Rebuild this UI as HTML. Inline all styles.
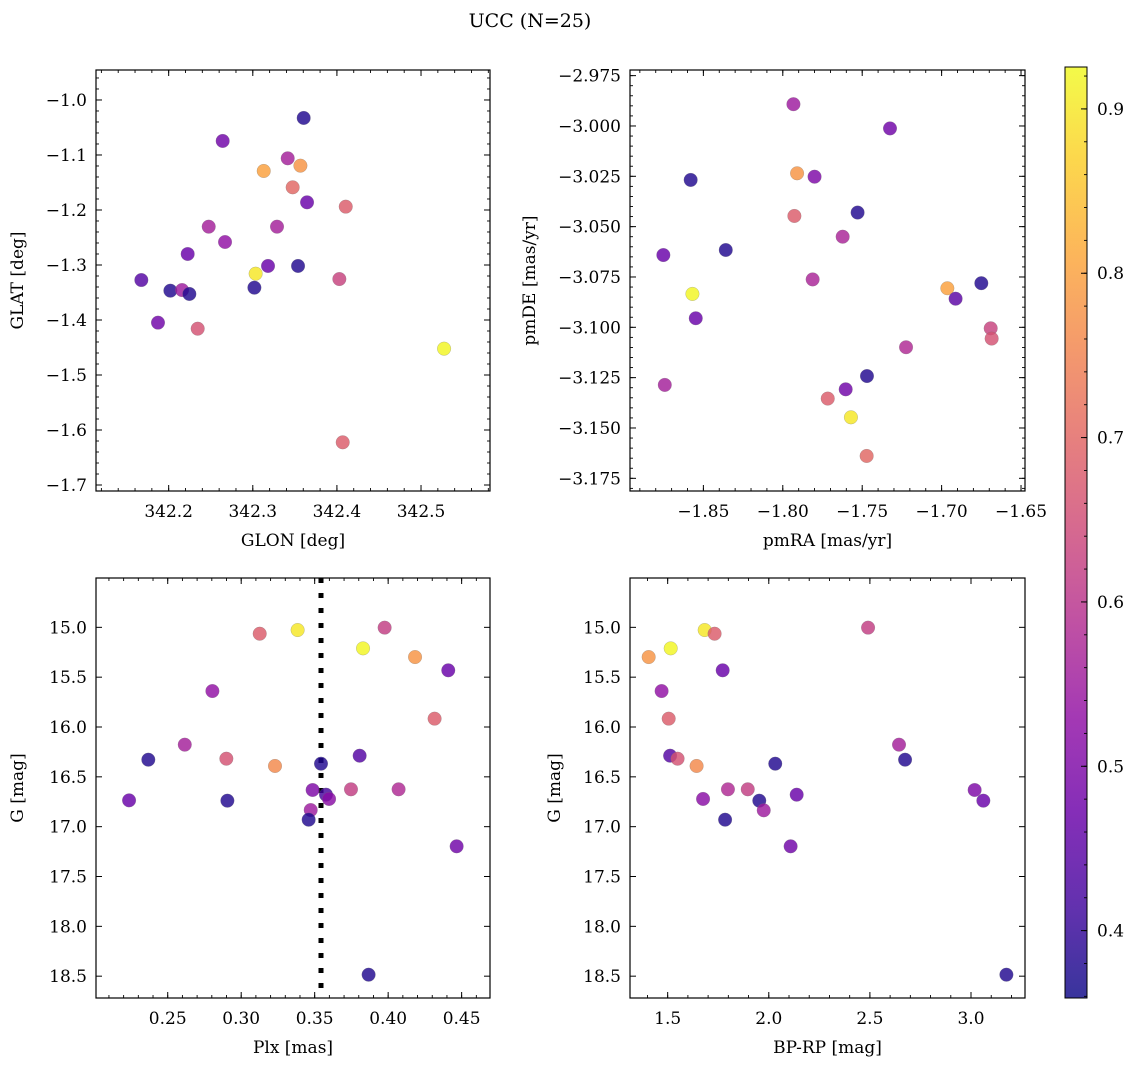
<!DOCTYPE html>
<html><head><meta charset="utf-8"><style>
html,body{margin:0;padding:0;background:#fff;}
svg{display:block;font-family:"DejaVu Serif","Liberation Serif",serif;}
</style></head><body>
<svg id="fig" width="1136" height="1067" viewBox="0 0 1136 1067" xmlns="http://www.w3.org/2000/svg">
<text x="530" y="27" font-size="19" text-anchor="middle">UCC (N=25)</text>
</svg>
<script>
// Panel 1: GLON vs GLAT
const glon = [342.3605,342.2642,342.3415,342.3566,342.3130,342.3474,342.3645,342.4105,342.2476,342.3288,342.2670,342.2226,342.3181,342.3538,342.3034,342.1675,342.4029,342.2020,342.2159,342.2246,342.3019,342.1873,342.2345,342.5274,342.4069];
const glat = [-1.0327,-1.0745,-1.1061,-1.1194,-1.1291,-1.1588,-1.1861,-1.1939,-1.2303,-1.2303,-1.2582,-1.2800,-1.3018,-1.3018,-1.3158,-1.3273,-1.3255,-1.3467,-1.3455,-1.3527,-1.3412,-1.4048,-1.4158,-1.4521,-1.6224];
const c1 = [0.38,0.48,0.56,0.78,0.80,0.70,0.47,0.68,0.56,0.56,0.53,0.47,0.47,0.38,0.90,0.44,0.63,0.38,0.55,0.38,0.38,0.48,0.66,0.92,0.68];
// Panel 2: pmRA vs pmDE
const pmra = [-1.7933,-1.7325,-1.858,-1.791,-1.780,-1.7927,-1.7529,-1.7623,-1.8752,-1.8359,-1.7812,-1.8569,-1.8548,-1.6964,-1.6912,-1.675,-1.6691,-1.6685,-1.7224,-1.8743,-1.7470,-1.7604,-1.7717,-1.7571,-1.7472];
const pmde = [-2.9892,-3.0012,-3.0268,-3.0235,-3.0252,-3.0447,-3.0430,-3.0550,-3.0641,-3.0616,-3.0762,-3.0834,-3.0955,-3.0806,-3.0858,-3.0781,-3.1005,-3.1056,-3.1099,-3.1286,-3.1242,-3.1308,-3.1354,-3.1447,-3.1639];
const c2 = [0.55,0.48,0.38,0.78,0.50,0.68,0.38,0.57,0.47,0.38,0.57,0.92,0.47,0.80,0.45,0.38,0.63,0.66,0.58,0.56,0.38,0.48,0.68,0.90,0.70];
// Panel 3: Plx vs G
const plx = [0.3126,0.3384,0.3976,0.3829,0.4183,0.4409,0.2804,0.4316,0.2616,0.2368,0.2899,0.3230,0.3543,0.3806,0.3486,0.3577,0.3598,0.3747,0.4071,0.2237,0.2906,0.3473,0.3459,0.4466,0.3867];
const gA = [15.064,15.027,15.003,15.211,15.298,15.431,15.639,15.916,16.177,16.328,16.318,16.391,16.368,16.288,16.632,16.679,16.722,16.625,16.625,16.736,16.739,16.833,16.930,17.197,18.485];
const c3 = [0.68,0.90,0.62,0.92,0.78,0.47,0.53,0.68,0.56,0.38,0.66,0.76,0.38,0.44,0.50,0.42,0.52,0.62,0.58,0.47,0.38,0.55,0.38,0.48,0.38];
const plxLine = [0.3543];
// Panel 4: BP-RP vs G
const bprp = [1.406,1.515,1.683,1.732,2.491,1.772,1.470,1.505,1.512,1.549,1.643,2.032,2.644,2.674,1.675,1.798,1.896,1.953,1.975,2.138,1.784,2.108,3.018,3.061,3.175];
const gB = [15.298,15.211,15.027,15.064,15.003,15.431,15.639,15.916,16.288,16.318,16.391,16.368,16.177,16.328,16.722,16.625,16.625,16.739,16.836,16.679,16.930,17.197,16.632,16.739,18.485];
const c4 = [0.78,0.92,0.90,0.68,0.62,0.47,0.53,0.68,0.44,0.66,0.76,0.38,0.56,0.38,0.52,0.58,0.62,0.38,0.55,0.47,0.38,0.48,0.50,0.47,0.38];
// Tick labels
const ticks1x = [342.2,342.3,342.4,342.5], ticks1y = [-1.0,-1.1,-1.2,-1.3,-1.4,-1.5,-1.6,-1.7];
const ticks2x = [-1.85,-1.80,-1.75,-1.70,-1.65], ticks2y = [-2.975,-3.000,-3.025,-3.050,-3.075,-3.100,-3.125,-3.150,-3.175];
const ticks3x = [0.25,0.30,0.35,0.40,0.45], ticksGy = [15.0,15.5,16.0,16.5,17.0,17.5,18.0,18.5];
const ticks4x = [1.5,2.0,2.5,3.0];
const cbTicks = [0.4,0.5,0.6,0.7,0.8,0.9];
const cbMin = 0.359, cbMax = 0.9255;

const NS = "http://www.w3.org/2000/svg";
const svg = document.getElementById('fig');
function mk(tag, attrs, parent){const e=document.createElementNS(NS,tag);for(const k in attrs)e.setAttribute(k,attrs[k]);(parent||svg).appendChild(e);return e;}
const stops=[[13,8,135],[65,4,157],[106,0,168],[143,13,164],[177,42,144],[204,71,120],[225,100,98],[242,132,75],[252,166,54],[252,206,37],[240,249,33]];
function plasma(t){t=Math.max(0,Math.min(1,t));const f=t*10,i=Math.min(9,Math.floor(f)),r=f-i;const a=stops[i],b=stops[i+1];return 'rgb('+a.map((v,k)=>Math.round(v+(b[k]-v)*r)).join(',')+')';}
function cmap(v){return plasma((v-cbMin)/(cbMax-cbMin));}
function fmt(v,d){return (v<0?'−':'')+Math.abs(v).toFixed(d);}

function panel(o){
  const g=mk('g',{});
  
  
  const sx=v=>o.x0+(v-o.xmin)/(o.xmax-o.xmin)*(o.x1-o.x0);
  const sy=v=>o.y0+(o.ymax-v)/(o.ymax-o.ymin)*(o.y1-o.y0);
  if(o.vline){for(const v of o.vline){const l=mk('line',{x1:sx(v),x2:sx(v),y1:o.y0,y2:o.y1,stroke:'#000','stroke-width':5,'stroke-dasharray':'5 10'},g);
    
    }}
  for(let i=0;i<o.xs.length;i++){
    const c=mk('circle',{cx:sx(o.xs[i]),cy:sy(o.ys[i]),r:6.8,fill:cmap(o.cs[i]),'fill-opacity':0.82,stroke:'#777','stroke-width':0.4,'stroke-opacity':0.6},g);
    
    
  }
  const fr=mk('rect',{x:o.x0,y:o.y0,width:o.x1-o.x0,height:o.y1-o.y0,fill:'none',stroke:'#000','stroke-width':1.2},g);
  
  
  const xm=o.xminor, ym=o.yminor;
  for(let v=Math.ceil(o.xmin/xm)*xm; v<=o.xmax; v+=xm){const x=sx(v);
    mk('line',{x1:x,x2:x,y1:o.y1,y2:o.y1-3,stroke:'#000','stroke-width':0.9},g);
    mk('line',{x1:x,x2:x,y1:o.y0,y2:o.y0+3,stroke:'#000','stroke-width':0.9},g);}
  for(let v=Math.ceil(o.ymin/ym)*ym; v<=o.ymax; v+=ym){const y=sy(v);
    mk('line',{x1:o.x0,x2:o.x0+3,y1:y,y2:y,stroke:'#000','stroke-width':0.9},g);
    mk('line',{x1:o.x1,x2:o.x1-3,y1:y,y2:y,stroke:'#000','stroke-width':0.9},g);}
  for(const v of o.xt){const x=sx(v);
    mk('line',{x1:x,x2:x,y1:o.y1,y2:o.y1-6,stroke:'#000','stroke-width':1},g);
    mk('line',{x1:x,x2:x,y1:o.y0,y2:o.y0+6,stroke:'#000','stroke-width':1},g);
    const t=mk('text',{x:x,y:o.y1+26,'font-size':17,'text-anchor':'middle'},g);t.textContent=fmt(v,o.xd);
    
    }
  for(const v of o.yt){const y=sy(v);
    mk('line',{x1:o.x0,x2:o.x0+6,y1:y,y2:y,stroke:'#000','stroke-width':1},g);
    mk('line',{x1:o.x1,x2:o.x1-6,y1:y,y2:y,stroke:'#000','stroke-width':1},g);
    const t=mk('text',{x:o.x0-9,y:y+6,'font-size':17,'text-anchor':'end'},g);t.textContent=fmt(v,o.yd);
    
    }
  const xl=mk('text',{x:(o.x0+o.x1)/2,y:o.y1+55,'font-size':17,'text-anchor':'middle'},g);xl.textContent=o.xlab;
  
  
  const yl=mk('text',{x:0,y:0,'font-size':17,'text-anchor':'middle',transform:'translate('+(o.ylx)+','+((o.y0+o.y1)/2)+') rotate(-90)'},g);yl.textContent=o.ylab;
  
  
}
panel({name:'glon-glat-panel',x0:96,x1:490,y0:70,y1:491,xmin:342.1136,xmax:342.582,ymin:-1.7109,ymax:-0.9455,xs:glon,ys:glat,cs:c1,xt:ticks1x,yt:ticks1y,xd:1,yd:1,xminor:0.02,yminor:0.02,xlab:'GLON [deg]',ylab:'GLAT [deg]',ylx:23});
panel({name:'pm-panel',x0:630,x1:1025,y0:70,y1:491,xmin:-1.8962,xmax:-1.6475,ymin:-3.1813,ymax:-2.9722,xs:pmra,ys:pmde,cs:c2,xt:ticks2x,yt:ticks2y,xd:2,yd:3,xminor:0.01,yminor:0.005,xlab:'pmRA [mas/yr]',ylab:'pmDE [mas/yr]',ylx:535});
panel({name:'plx-g-panel',x0:96,x1:490,y0:578,y1:998,xmin:0.2012,xmax:0.4693,ymin:18.719,ymax:14.505,xs:plx,ys:gA,cs:c3,xt:ticks3x,yt:ticksGy,xd:2,yd:1,xminor:0.01,yminor:0.1,xlab:'Plx [mas]',ylab:'G [mag]',ylx:23,vline:plxLine});
panel({name:'cmd-panel',x0:630,x1:1025,y0:578,y1:998,xmin:1.3137,xmax:3.267,ymin:18.719,ymax:14.505,xs:bprp,ys:gB,cs:c4,xt:ticks4x,yt:ticksGy,xd:1,yd:1,xminor:0.1,yminor:0.1,xlab:'BP-RP [mag]',ylab:'G [mag]',ylx:560});
</script>
<script>
(function(){
  const NS="http://www.w3.org/2000/svg";const svg=document.getElementById('fig');
  const cb=document.createElementNS(NS,'g');svg.appendChild(cb);
  
  
  const x0=1065,x1=1087,y0=67,y1=998;
  const defs=document.createElementNS(NS,'defs');svg.appendChild(defs);
  const lg=document.createElementNS(NS,'linearGradient');lg.setAttribute('id','cbg');lg.setAttribute('x1','0');lg.setAttribute('y1','1');lg.setAttribute('x2','0');lg.setAttribute('y2','0');defs.appendChild(lg);
  for(let i=0;i<=20;i++){const s=document.createElementNS(NS,'stop');s.setAttribute('offset',i/20);s.setAttribute('stop-color',plasma(i/20));lg.appendChild(s);}
  const r=document.createElementNS(NS,'rect');
  for(const [k,v] of Object.entries({x:x0,y:y0,width:x1-x0,height:y1-y0,fill:'url(#cbg)','fill-opacity':0.82,stroke:'#000','stroke-width':1}))r.setAttribute(k,v);
  cb.appendChild(r);
  const sy=v=>y1-(v-cbMin)/(cbMax-cbMin)*(y1-y0);
  for(let v=0.36;v<=0.925;v+=0.02){const y=sy(v);const l=document.createElementNS(NS,'line');
    for(const [k,a] of Object.entries({x1:x1,x2:x1-3,y1:y,y2:y,stroke:'#000','stroke-width':0.9}))l.setAttribute(k,a);cb.appendChild(l);}
  for(const v of cbTicks){const y=sy(v);const l=document.createElementNS(NS,'line');
    for(const [k,a] of Object.entries({x1:x1,x2:x1-6,y1:y,y2:y,stroke:'#000','stroke-width':1}))l.setAttribute(k,a);cb.appendChild(l);
    const t=document.createElementNS(NS,'text');t.setAttribute('x',x1+10);t.setAttribute('y',y+6);t.setAttribute('font-size',17);t.textContent=v.toFixed(1);
    
    
    cb.appendChild(t);}
})();
</script>
</body></html>
